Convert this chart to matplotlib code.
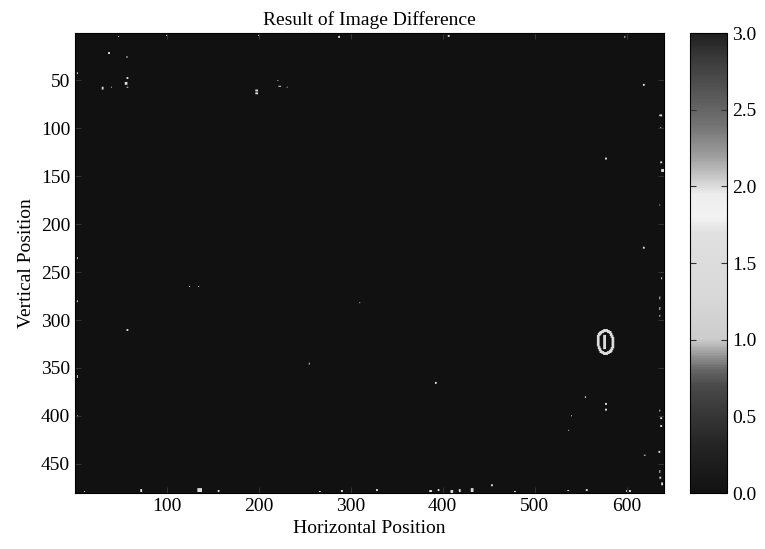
import matplotlib
matplotlib.use("Agg")
import matplotlib.pyplot as plt
import numpy as np
from matplotlib.colors import LinearSegmentedColormap

# image size (rows, cols)
IMG_H = 480
IMG_W = 640

# bright difference spots: column, row, width, height (image pixels)
spot_x = [48, 37, 57, 3, 57, 55, 30, 40, 57, 197, 197, 221, 222, 231, 287, 100, 200, 406, 598,
          3, 3, 3, 3, 57, 125, 135, 255, 310, 392, 555, 540, 537,
          618, 636, 637, 577, 637, 638, 636, 618, 638, 636, 636, 636, 577, 577, 636, 637, 637,
          619, 635, 636, 636, 638, 600, 603,
          11, 72, 134, 156, 266, 290, 328, 386, 395, 409, 418, 431, 453, 478, 536, 556]
spot_y = [4, 21, 25, 42, 47, 52, 57, 57, 57, 60, 63, 50, 56, 57, 4, 3, 3, 3, 4,
          235, 280, 358, 400, 310, 265, 265, 345, 282, 365, 380, 400, 415,
          54, 86, 99, 131, 135, 143, 180, 224, 256, 276, 287, 295, 387, 393, 394, 402, 410,
          441, 437, 457, 464, 470, 478, 478,
          479, 477, 476, 478, 479, 478, 477, 478, 477, 478, 477, 476, 472, 479, 478, 477]
spot_w = [1, 2, 1, 1, 2, 3, 2, 1, 2, 3, 3, 1, 3, 1, 2, 1, 1, 2, 1,
          1, 1, 1, 1, 2, 1, 1, 1, 1, 2, 1, 1, 1,
          2, 3, 1, 2, 2, 3, 1, 2, 1, 1, 1, 1, 2, 2, 1, 2, 2,
          2, 2, 1, 2, 2, 2, 2,
          1, 2, 5, 2, 2, 2, 2, 3, 2, 3, 2, 3, 2, 2, 2, 2]
spot_h = [1, 2, 2, 2, 2, 3, 3, 1, 1, 2, 2, 1, 1, 1, 2, 1, 1, 2, 2,
          2, 2, 3, 2, 2, 1, 1, 2, 1, 2, 2, 1, 1,
          2, 2, 1, 2, 2, 3, 1, 2, 2, 3, 3, 2, 2, 2, 2, 2, 2,
          1, 2, 3, 2, 3, 2, 2,
          1, 3, 4, 2, 1, 2, 2, 2, 2, 3, 3, 4, 2, 1, 1, 2]

# the ring-shaped blob on the right (outline pixels plus a bar inside)
ring_x = [572, 574, 576, 578, 580, 582, 583, 584, 585, 585, 585, 585, 584, 583, 582, 580, 578,
          576, 574, 572, 571, 570, 569, 569, 569, 569, 570, 571, 576, 576, 576, 576, 576]
ring_y = [313, 312, 311, 311, 312, 313, 315, 317, 319, 322, 325, 328, 330, 332, 333, 334, 335,
          335, 334, 333, 331, 329, 326, 323, 320, 317, 315, 314, 317, 320, 323, 326, 329]

spot_value = 1.5

# colour map levels (value, gray)
cmap_vals = [0.0, 0.3, 0.5, 0.7, 0.8, 0.9, 1.0, 1.3, 1.7, 1.8, 1.95, 2.05, 2.2, 2.4, 2.65, 2.85, 3.0]
cmap_gray = [0.07, 0.14, 0.21, 0.29, 0.40, 0.60, 0.80, 0.85, 0.88, 0.95, 0.93, 0.80, 0.62, 0.45, 0.32, 0.22, 0.12]

xticks = [100, 200, 300, 400, 500, 600]
yticks = [50, 100, 150, 200, 250, 300, 350, 400, 450]
cticks = [0.0, 0.5, 1.0, 1.5, 2.0, 2.5, 3.0]

plt.rcParams['font.family'] = ['Liberation Serif', 'DejaVu Serif']
plt.rcParams['font.size'] = 14

img = np.zeros((IMG_H, IMG_W))
for x, y, w, h in zip(spot_x, spot_y, spot_w, spot_h):
    img[y - 1:y - 1 + h, x - 1:x - 1 + w] = spot_value
for x, y in zip(ring_x, ring_y):
    img[y - 2:y + 1, x - 2:x + 1] = spot_value

cmap = LinearSegmentedColormap.from_list(
    "diff_gray", [(v / 3.0, (g, g, g)) for v, g in zip(cmap_vals, cmap_gray)])

fig = plt.figure(figsize=(7.65, 5.49), dpi=100)
ax = fig.add_axes([75 / 765, 56 / 549, 589 / 765, 460 / 549])
cax = fig.add_axes([690 / 765, 56 / 549, 37 / 765, 460 / 549])

im = ax.imshow(img, cmap=cmap, vmin=0, vmax=3, aspect='auto',
               extent=(0.5, IMG_W + 0.5, IMG_H + 0.5, 0.5))
ax.set_xticks(xticks)
ax.set_yticks(yticks)
ax.tick_params(direction='in', top=True, right=True, length=4, color='#333333')
ax.set_title('Result of Image Difference', fontsize=14, pad=6)
ax.set_xlabel('Horizontal Position', fontsize=14)
ax.set_ylabel('Vertical Position', fontsize=14)

cb = fig.colorbar(im, cax=cax)
cb.set_ticks(cticks)
cb.set_ticklabels(['%.1f' % t for t in cticks])
cb.ax.tick_params(direction='in', left=True, right=True, length=4, color='#333333', labelsize=14)
cb.outline.set_linewidth(0.8)

fig.savefig('out.png', dpi=100)
